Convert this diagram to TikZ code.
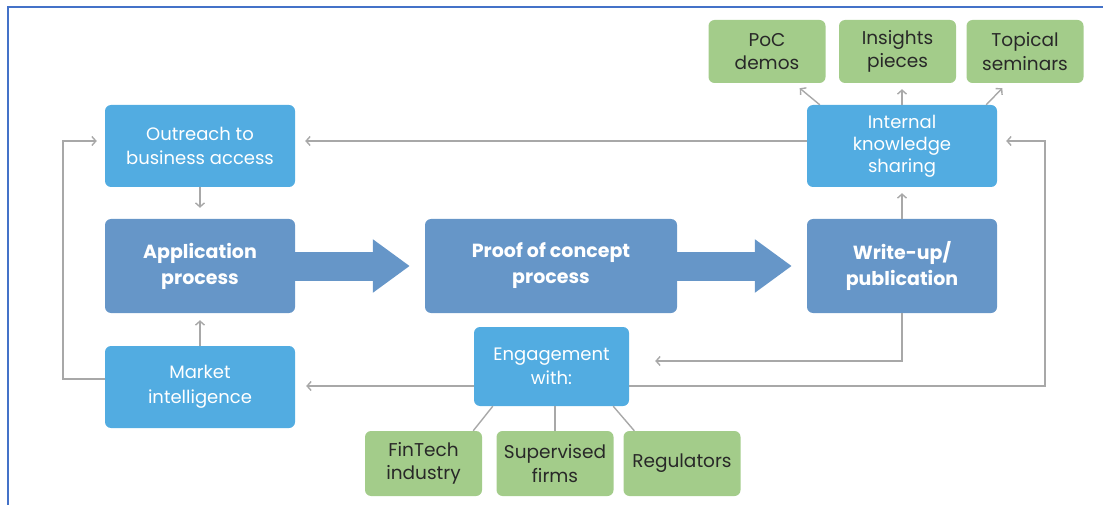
\documentclass[tikz,border=0pt]{standalone}
\usepackage{fontspec}
\setmainfont{Poppins}
\usetikzlibrary{arrows.meta,calc}

\definecolor{lightbox}{RGB}{82,172,225}
\definecolor{darkbox}{RGB}{102,150,200}
\definecolor{greenbox}{RGB}{163,204,138}
\definecolor{linkgray}{RGB}{168,168,168}
\definecolor{frameblue}{RGB}{68,114,200}
\definecolor{greentext}{RGB}{40,40,40}

\begin{document}
\begin{tikzpicture}[x=1pt,y=-1pt,
  box/.style={rectangle, rounded corners=6pt, inner sep=2pt, align=center, text=white},
  lightstep/.style={box, fill=lightbox, minimum width=190pt, minimum height=82pt,
    font=\fontsize{18}{24.5}\selectfont},
  darkstep/.style={box, fill=darkbox, minimum height=94pt,
    font=\fontsize{19}{26}\selectfont\bfseries},
  leaf/.style={box, fill=greenbox, text=greentext, minimum width=117pt,
    font=\fontsize{18.5}{23.5}\selectfont},
  link/.style={draw=linkgray, line width=1.4pt},
  arrowlink/.style={link, -{Straight Barb[length=4pt,width=9pt]}},
  flow/.style={draw=darkbox, line width=29pt,
    -{Triangle[length=37pt,width=51pt]}}
]
\useasboundingbox (0,0) rectangle (1103,505);

% frame lines along the top and left edges
\draw[frameblue, line width=2pt] (8,505) -- (8,7) -- (1103,7);

% main process steps
\node[darkstep, minimum width=190pt] (app) at (200,266) {Application\\process};
\node[darkstep, minimum width=252pt] (poc) at (551,266) {Proof of concept\\process};
\node[darkstep, minimum width=190pt] (wup) at (902,266) {Write-up/\\publication};

% supporting activities
\node[lightstep] (out) at (200,146) {Outreach to\\business access};
\node[lightstep] (mkt) at (200,387) {Market\\intelligence};
\node[lightstep, font=\fontsize{18}{22}\selectfont] (iks) at (902,146) {Internal\\knowledge\\sharing};
\node[lightstep, minimum width=155pt, minimum height=79pt] (eng) at (551.5,366.5) {Engagement\\with:};

% outputs and counterparts
\node[leaf, minimum height=63pt] (demo) at (767,51.5) {PoC\\demos};
\node[leaf, minimum height=63pt] (ins) at (897.5,51.5) {Insights\\pieces};
\node[leaf, minimum height=63pt] (top) at (1025,51.5) {Topical\\seminars};
\node[leaf, minimum height=65pt] (fin) at (423.5,463.5) {FinTech\\industry};
\node[leaf, minimum height=65pt] (sup) at (555,463.5) {Supervised\\firms};
\node[leaf, minimum height=65pt] (reg) at (682,463.5) {Regulators};

% broad flow arrows
\draw[flow, shorten >=15pt] (app.east) -- (poc.west);
\draw[flow, shorten >=15pt] (poc.east) -- (wup.west);

% loop corners and connector ends
\coordinate (lx) at (63,141);
\coordinate (rx) at (1045,141);
\coordinate (mktL) at ([yshift=8pt]mkt.west);
\coordinate (outL) at ([yshift=5pt]out.west);
\coordinate (outR) at ([yshift=5pt]out.east);
\coordinate (iksL) at ([yshift=5pt]iks.west);
\coordinate (iksR) at ([yshift=5pt]iks.east);
\coordinate (engR) at ([yshift=5.5pt]eng.east);
\coordinate (engLlow) at ([yshift=-19.5pt]eng.west);
\coordinate (engRlow) at ([yshift=-19.5pt]eng.east);

% feedback connectors
\draw[arrowlink, shorten >=11pt] (out.south) -- (app.north);
\draw[arrowlink, shorten >=7pt] (mkt.north) -- (app.south);
\draw[arrowlink, shorten >=8pt] (mktL) -| (lx) -- (outL);
\draw[arrowlink, shorten >=10pt] (iksL) -- (outR);
\draw[arrowlink, shorten >=26pt] (wup.south) |- (engR);
\draw[arrowlink, shorten >=11pt] (engLlow) -- (mkt.east |- engLlow);
\draw[arrowlink, shorten >=9pt] (engRlow) -| (rx) -- (iksR);
\draw[arrowlink, shorten >=6pt] (wup.north) -- (iks.south);

% knowledge sharing outputs
\draw[arrowlink] ($(iks.north west)+(13,0)$) -- ($(demo.south east)+(-26,5)$);
\draw[arrowlink, shorten >=6pt] (iks.north) -- (iks.north |- ins.south);
\draw[arrowlink] ($(iks.north east)+(-11,0)$) -- ($(top.south west)+(36,5)$);

% engagement counterparts
\draw[link] ($(eng.south west)+(19,0)$) -- ($(fin.north east)+(-9,0)$);
\draw[link] (sup.north |- eng.south) -- (sup.north);
\draw[link] ($(eng.south east)+(-16,0)$) -- ($(reg.north west)+(11,0)$);
\end{tikzpicture}
\end{document}
